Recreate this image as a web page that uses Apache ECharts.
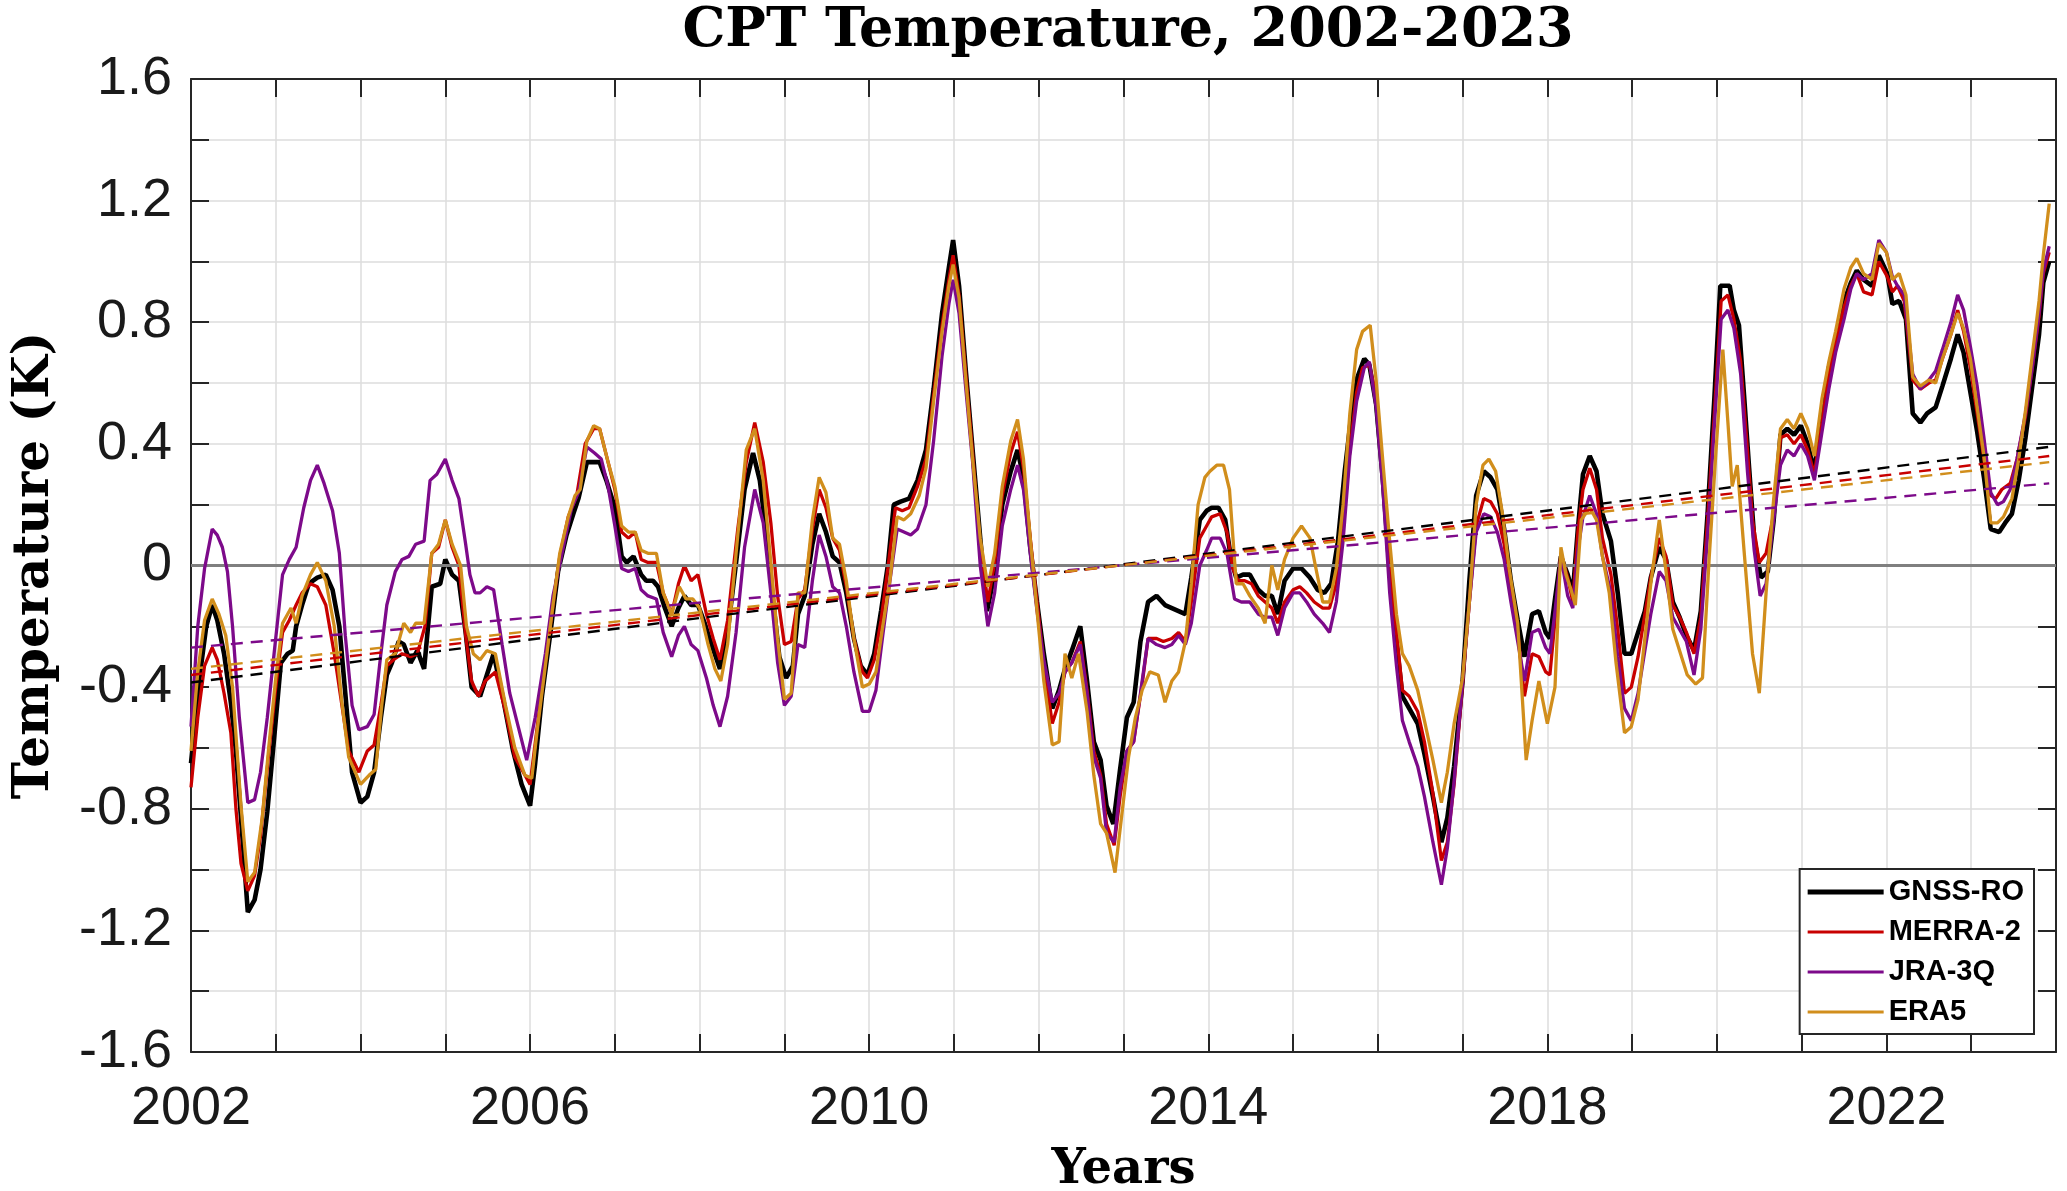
<!DOCTYPE html>
<html>
<head>
<meta charset="utf-8">
<script src="https://cdn.jsdelivr.net/npm/echarts@6/dist/echarts.min.js"></script>
<style>html,body{margin:0;padding:0;background:#fff}#c{width:2067px;height:1191px}</style>
</head>
<body>
<div id="c"></div>
<script>
const titleText = 'CPT Temperature, 2002-2023';
const xName = 'Years';
const yName = 'Temperature (K)';
const seriesNames = ['GNSS-RO', 'MERRA-2', 'JRA-3Q', 'ERA5'];

const gnssRO = [[2002.00,-0.65],[2002.10,-0.37],[2002.18,-0.20],[2002.25,-0.13],[2002.31,-0.18],[2002.39,-0.29],[2002.47,-0.45],[2002.53,-0.61],[2002.59,-0.83],[2002.67,-1.14],[2002.75,-1.10],[2002.82,-1.00],[2002.90,-0.81],[2002.98,-0.57],[2003.06,-0.32],[2003.14,-0.29],[2003.20,-0.28],[2003.24,-0.20],[2003.31,-0.13],[2003.39,-0.06],[2003.49,-0.04],[2003.59,-0.03],[2003.67,-0.08],[2003.75,-0.20],[2003.82,-0.42],[2003.90,-0.68],[2004.00,-0.78],[2004.08,-0.76],[2004.16,-0.68],[2004.24,-0.50],[2004.31,-0.36],[2004.37,-0.32],[2004.45,-0.25],[2004.51,-0.26],[2004.59,-0.32],[2004.67,-0.28],[2004.75,-0.34],[2004.84,-0.07],[2004.94,-0.06],[2005.00,0.02],[2005.08,-0.03],[2005.16,-0.05],[2005.24,-0.22],[2005.31,-0.40],[2005.41,-0.43],[2005.49,-0.36],[2005.57,-0.29],[2005.69,-0.45],[2005.80,-0.61],[2005.90,-0.72],[2006.00,-0.79],[2006.06,-0.65],[2006.14,-0.43],[2006.24,-0.22],[2006.33,-0.02],[2006.43,0.10],[2006.51,0.17],[2006.57,0.22],[2006.67,0.34],[2006.76,0.34],[2006.82,0.34],[2006.90,0.28],[2007.00,0.19],[2007.08,0.03],[2007.14,0.01],[2007.22,0.03],[2007.31,-0.03],[2007.37,-0.05],[2007.45,-0.05],[2007.51,-0.07],[2007.59,-0.14],[2007.67,-0.20],[2007.75,-0.14],[2007.82,-0.10],[2007.90,-0.13],[2007.98,-0.13],[2008.06,-0.19],[2008.14,-0.26],[2008.24,-0.34],[2008.33,-0.22],[2008.43,0.01],[2008.53,0.25],[2008.63,0.37],[2008.71,0.28],[2008.78,0.12],[2008.86,-0.10],[2008.94,-0.30],[2009.02,-0.37],[2009.10,-0.33],[2009.16,-0.16],[2009.24,-0.10],[2009.33,0.07],[2009.41,0.17],[2009.49,0.11],[2009.57,0.03],[2009.65,0.01],[2009.73,-0.09],[2009.82,-0.24],[2009.90,-0.33],[2009.98,-0.36],[2010.06,-0.29],[2010.14,-0.15],[2010.22,0.00],[2010.29,0.20],[2010.37,0.21],[2010.47,0.22],[2010.57,0.28],[2010.67,0.38],[2010.76,0.58],[2010.86,0.83],[2010.94,0.98],[2010.99,1.07],[2011.06,0.92],[2011.14,0.64],[2011.22,0.38],[2011.31,0.09],[2011.39,-0.15],[2011.47,-0.04],[2011.57,0.20],[2011.67,0.31],[2011.75,0.38],[2011.82,0.29],[2011.90,0.06],[2011.98,-0.12],[2012.06,-0.29],[2012.16,-0.47],[2012.24,-0.41],[2012.31,-0.34],[2012.39,-0.28],[2012.49,-0.20],[2012.57,-0.38],[2012.65,-0.58],[2012.73,-0.64],[2012.80,-0.79],[2012.88,-0.85],[2012.96,-0.67],[2013.04,-0.50],[2013.12,-0.45],[2013.20,-0.25],[2013.29,-0.12],[2013.39,-0.10],[2013.49,-0.13],[2013.57,-0.14],[2013.65,-0.15],[2013.73,-0.16],[2013.80,-0.04],[2013.90,0.15],[2013.98,0.18],[2014.04,0.19],[2014.12,0.19],[2014.20,0.15],[2014.27,0.02],[2014.33,-0.04],[2014.41,-0.03],[2014.49,-0.03],[2014.59,-0.08],[2014.67,-0.10],[2014.75,-0.10],[2014.82,-0.16],[2014.90,-0.05],[2015.00,-0.01],[2015.10,-0.01],[2015.20,-0.04],[2015.29,-0.08],[2015.37,-0.09],[2015.45,-0.06],[2015.53,0.08],[2015.61,0.31],[2015.69,0.50],[2015.76,0.62],[2015.84,0.68],[2015.90,0.66],[2015.98,0.53],[2016.06,0.28],[2016.14,-0.02],[2016.22,-0.25],[2016.29,-0.43],[2016.37,-0.47],[2016.47,-0.52],[2016.55,-0.62],[2016.65,-0.76],[2016.75,-0.91],[2016.82,-0.83],[2016.90,-0.66],[2017.00,-0.38],[2017.08,-0.05],[2017.16,0.23],[2017.25,0.31],[2017.33,0.29],[2017.41,0.25],[2017.49,0.12],[2017.57,-0.05],[2017.65,-0.18],[2017.73,-0.30],[2017.82,-0.16],[2017.90,-0.15],[2017.98,-0.22],[2018.03,-0.24],[2018.09,-0.11],[2018.16,0.03],[2018.24,-0.03],[2018.30,-0.09],[2018.36,0.12],[2018.42,0.30],[2018.50,0.36],[2018.58,0.31],[2018.65,0.17],[2018.75,0.08],[2018.83,-0.09],[2018.91,-0.29],[2018.99,-0.29],[2019.07,-0.22],[2019.15,-0.15],[2019.22,-0.04],[2019.32,0.06],[2019.40,0.02],[2019.48,-0.12],[2019.56,-0.17],[2019.64,-0.23],[2019.73,-0.28],[2019.81,-0.15],[2019.89,0.17],[2019.97,0.55],[2020.04,0.92],[2020.15,0.92],[2020.20,0.84],[2020.26,0.79],[2020.32,0.56],[2020.38,0.32],[2020.44,0.09],[2020.52,-0.04],[2020.60,-0.02],[2020.67,0.15],[2020.75,0.43],[2020.83,0.45],[2020.91,0.43],[2020.99,0.46],[2021.07,0.40],[2021.15,0.31],[2021.24,0.50],[2021.32,0.65],[2021.40,0.74],[2021.50,0.87],[2021.58,0.93],[2021.65,0.97],[2021.73,0.94],[2021.83,0.92],[2021.91,1.02],[2022.01,0.96],[2022.07,0.86],[2022.15,0.87],[2022.23,0.81],[2022.31,0.50],[2022.40,0.47],[2022.48,0.50],[2022.58,0.52],[2022.66,0.59],[2022.76,0.68],[2022.84,0.76],[2022.91,0.70],[2022.99,0.57],[2023.07,0.44],[2023.15,0.29],[2023.23,0.12],[2023.33,0.11],[2023.40,0.14],[2023.48,0.17],[2023.56,0.28],[2023.64,0.42],[2023.72,0.59],[2023.80,0.76],[2023.85,0.93],[2023.92,1.00]];

const merra2 = [[2002.00,-0.73],[2002.08,-0.50],[2002.16,-0.33],[2002.25,-0.27],[2002.31,-0.31],[2002.39,-0.42],[2002.47,-0.55],[2002.53,-0.80],[2002.59,-0.98],[2002.67,-1.07],[2002.75,-1.02],[2002.82,-0.89],[2002.92,-0.61],[2003.00,-0.40],[2003.08,-0.22],[2003.16,-0.18],[2003.24,-0.13],[2003.31,-0.09],[2003.41,-0.06],[2003.49,-0.07],[2003.59,-0.13],[2003.69,-0.29],[2003.78,-0.46],[2003.86,-0.61],[2003.98,-0.68],[2004.08,-0.61],[2004.16,-0.59],[2004.24,-0.46],[2004.31,-0.33],[2004.39,-0.31],[2004.49,-0.29],[2004.59,-0.30],[2004.67,-0.29],[2004.76,-0.20],[2004.84,0.04],[2004.92,0.06],[2005.00,0.15],[2005.08,0.06],[2005.16,0.00],[2005.24,-0.23],[2005.31,-0.38],[2005.39,-0.43],[2005.47,-0.38],[2005.59,-0.35],[2005.71,-0.48],[2005.82,-0.63],[2005.92,-0.68],[2006.00,-0.72],[2006.08,-0.54],[2006.18,-0.32],[2006.27,-0.13],[2006.35,0.03],[2006.45,0.16],[2006.55,0.23],[2006.65,0.40],[2006.75,0.45],[2006.82,0.45],[2006.92,0.34],[2007.00,0.25],[2007.08,0.11],[2007.16,0.09],[2007.24,0.11],[2007.31,0.02],[2007.39,0.01],[2007.49,0.01],[2007.57,-0.09],[2007.67,-0.16],[2007.75,-0.06],[2007.82,0.00],[2007.90,-0.05],[2007.98,-0.03],[2008.08,-0.16],[2008.16,-0.24],[2008.24,-0.31],[2008.33,-0.18],[2008.45,0.12],[2008.55,0.34],[2008.65,0.47],[2008.75,0.34],[2008.84,0.14],[2008.92,-0.10],[2009.00,-0.26],[2009.08,-0.25],[2009.16,-0.11],[2009.24,-0.08],[2009.33,0.12],[2009.41,0.25],[2009.49,0.19],[2009.57,0.09],[2009.65,0.05],[2009.73,-0.07],[2009.82,-0.24],[2009.92,-0.35],[2009.98,-0.37],[2010.06,-0.31],[2010.14,-0.18],[2010.22,-0.01],[2010.31,0.19],[2010.39,0.18],[2010.47,0.19],[2010.57,0.26],[2010.67,0.35],[2010.76,0.56],[2010.86,0.79],[2010.94,0.94],[2010.99,1.02],[2011.06,0.89],[2011.14,0.63],[2011.22,0.37],[2011.31,0.06],[2011.40,-0.12],[2011.48,0.01],[2011.57,0.23],[2011.67,0.37],[2011.75,0.44],[2011.82,0.32],[2011.90,0.09],[2011.98,-0.12],[2012.06,-0.32],[2012.16,-0.52],[2012.24,-0.45],[2012.31,-0.35],[2012.39,-0.32],[2012.49,-0.25],[2012.57,-0.41],[2012.65,-0.61],[2012.73,-0.69],[2012.80,-0.85],[2012.89,-0.92],[2012.96,-0.76],[2013.04,-0.61],[2013.12,-0.58],[2013.22,-0.39],[2013.29,-0.24],[2013.39,-0.24],[2013.47,-0.25],[2013.57,-0.24],[2013.65,-0.22],[2013.73,-0.25],[2013.80,-0.12],[2013.90,0.09],[2013.98,0.13],[2014.04,0.16],[2014.14,0.17],[2014.22,0.11],[2014.29,-0.01],[2014.35,-0.05],[2014.43,-0.05],[2014.51,-0.06],[2014.59,-0.10],[2014.67,-0.12],[2014.75,-0.14],[2014.82,-0.19],[2014.90,-0.12],[2015.00,-0.08],[2015.08,-0.07],[2015.16,-0.09],[2015.25,-0.12],[2015.35,-0.14],[2015.43,-0.14],[2015.51,-0.06],[2015.59,0.12],[2015.67,0.38],[2015.75,0.57],[2015.82,0.65],[2015.90,0.66],[2015.98,0.56],[2016.06,0.28],[2016.14,-0.01],[2016.22,-0.22],[2016.29,-0.41],[2016.37,-0.43],[2016.47,-0.48],[2016.55,-0.58],[2016.65,-0.75],[2016.75,-0.97],[2016.82,-0.91],[2016.90,-0.72],[2017.00,-0.39],[2017.08,-0.12],[2017.16,0.13],[2017.25,0.22],[2017.33,0.21],[2017.41,0.17],[2017.49,0.07],[2017.57,-0.09],[2017.65,-0.22],[2017.73,-0.43],[2017.82,-0.29],[2017.90,-0.30],[2017.98,-0.35],[2018.03,-0.36],[2018.09,-0.18],[2018.16,0.04],[2018.24,-0.04],[2018.30,-0.12],[2018.36,0.11],[2018.42,0.25],[2018.50,0.32],[2018.58,0.25],[2018.65,0.09],[2018.75,-0.03],[2018.83,-0.21],[2018.91,-0.42],[2018.99,-0.40],[2019.07,-0.30],[2019.15,-0.16],[2019.22,-0.04],[2019.32,0.09],[2019.40,0.03],[2019.48,-0.13],[2019.56,-0.17],[2019.64,-0.22],[2019.73,-0.29],[2019.81,-0.17],[2019.89,0.15],[2019.97,0.50],[2020.05,0.87],[2020.13,0.89],[2020.20,0.81],[2020.28,0.67],[2020.36,0.38],[2020.42,0.15],[2020.50,0.01],[2020.58,0.04],[2020.67,0.17],[2020.75,0.42],[2020.83,0.43],[2020.91,0.40],[2020.99,0.43],[2021.07,0.38],[2021.15,0.30],[2021.24,0.47],[2021.32,0.63],[2021.40,0.73],[2021.50,0.85],[2021.58,0.92],[2021.65,0.96],[2021.73,0.90],[2021.83,0.89],[2021.91,1.00],[2022.01,0.95],[2022.07,0.90],[2022.13,0.92],[2022.21,0.87],[2022.31,0.61],[2022.40,0.58],[2022.50,0.60],[2022.58,0.61],[2022.66,0.68],[2022.76,0.76],[2022.84,0.84],[2022.91,0.77],[2022.99,0.65],[2023.07,0.50],[2023.15,0.35],[2023.23,0.23],[2023.29,0.22],[2023.36,0.25],[2023.46,0.27],[2023.54,0.35],[2023.64,0.49],[2023.72,0.65],[2023.80,0.82],[2023.85,0.96],[2023.92,1.03]];

const jra3q = [[2002.00,-0.53],[2002.08,-0.20],[2002.16,-0.01],[2002.25,0.12],[2002.31,0.10],[2002.37,0.06],[2002.43,-0.02],[2002.49,-0.20],[2002.57,-0.50],[2002.67,-0.78],[2002.75,-0.77],[2002.82,-0.68],[2002.90,-0.50],[2002.98,-0.29],[2003.08,-0.03],[2003.16,0.02],[2003.24,0.06],[2003.33,0.19],[2003.41,0.28],[2003.49,0.33],[2003.57,0.27],[2003.67,0.18],[2003.75,0.04],[2003.82,-0.23],[2003.90,-0.46],[2003.98,-0.54],[2004.08,-0.53],[2004.16,-0.49],[2004.24,-0.29],[2004.31,-0.13],[2004.41,-0.02],[2004.49,0.02],[2004.57,0.03],[2004.65,0.07],[2004.75,0.08],[2004.82,0.28],[2004.90,0.30],[2005.00,0.35],[2005.08,0.28],[2005.16,0.22],[2005.24,0.07],[2005.29,-0.03],[2005.35,-0.09],[2005.41,-0.09],[2005.49,-0.07],[2005.57,-0.08],[2005.67,-0.26],[2005.76,-0.42],[2005.86,-0.53],[2005.96,-0.64],[2006.06,-0.50],[2006.18,-0.29],[2006.27,-0.10],[2006.37,0.03],[2006.49,0.19],[2006.57,0.24],[2006.67,0.39],[2006.76,0.37],[2006.84,0.35],[2006.92,0.26],[2007.00,0.13],[2007.08,-0.01],[2007.16,-0.02],[2007.24,-0.01],[2007.31,-0.08],[2007.39,-0.10],[2007.49,-0.11],[2007.57,-0.22],[2007.67,-0.30],[2007.75,-0.23],[2007.82,-0.20],[2007.90,-0.26],[2007.98,-0.28],[2008.08,-0.37],[2008.16,-0.46],[2008.24,-0.53],[2008.33,-0.43],[2008.43,-0.22],[2008.53,0.06],[2008.65,0.25],[2008.75,0.14],[2008.84,-0.09],[2008.92,-0.32],[2009.00,-0.46],[2009.08,-0.43],[2009.16,-0.26],[2009.24,-0.27],[2009.33,-0.05],[2009.41,0.10],[2009.49,0.03],[2009.57,-0.07],[2009.65,-0.09],[2009.73,-0.20],[2009.82,-0.35],[2009.92,-0.48],[2010.00,-0.48],[2010.08,-0.41],[2010.16,-0.23],[2010.24,-0.06],[2010.33,0.12],[2010.41,0.11],[2010.49,0.10],[2010.57,0.12],[2010.67,0.20],[2010.76,0.41],[2010.86,0.69],[2010.94,0.86],[2010.99,0.94],[2011.06,0.83],[2011.14,0.58],[2011.22,0.34],[2011.31,0.00],[2011.40,-0.20],[2011.48,-0.09],[2011.57,0.13],[2011.67,0.25],[2011.75,0.33],[2011.82,0.25],[2011.90,0.04],[2011.98,-0.15],[2012.06,-0.31],[2012.16,-0.45],[2012.24,-0.42],[2012.31,-0.35],[2012.39,-0.32],[2012.49,-0.26],[2012.57,-0.42],[2012.65,-0.63],[2012.73,-0.70],[2012.80,-0.88],[2012.89,-0.91],[2012.96,-0.73],[2013.04,-0.61],[2013.12,-0.58],[2013.22,-0.38],[2013.29,-0.24],[2013.39,-0.26],[2013.49,-0.27],[2013.57,-0.26],[2013.65,-0.23],[2013.73,-0.26],[2013.80,-0.19],[2013.90,0.00],[2013.98,0.05],[2014.04,0.09],[2014.14,0.09],[2014.22,0.04],[2014.31,-0.11],[2014.39,-0.12],[2014.49,-0.12],[2014.59,-0.16],[2014.67,-0.17],[2014.75,-0.17],[2014.82,-0.23],[2014.90,-0.14],[2015.00,-0.09],[2015.08,-0.09],[2015.16,-0.12],[2015.25,-0.16],[2015.35,-0.19],[2015.43,-0.22],[2015.51,-0.12],[2015.59,0.08],[2015.67,0.36],[2015.75,0.54],[2015.84,0.65],[2015.90,0.67],[2015.98,0.52],[2016.06,0.25],[2016.14,-0.09],[2016.22,-0.33],[2016.29,-0.51],[2016.37,-0.58],[2016.47,-0.66],[2016.55,-0.76],[2016.65,-0.91],[2016.75,-1.05],[2016.82,-0.93],[2016.90,-0.71],[2017.00,-0.38],[2017.08,-0.12],[2017.16,0.11],[2017.25,0.17],[2017.33,0.16],[2017.41,0.11],[2017.49,0.02],[2017.57,-0.12],[2017.65,-0.25],[2017.73,-0.38],[2017.82,-0.22],[2017.90,-0.21],[2017.98,-0.27],[2018.03,-0.29],[2018.09,-0.15],[2018.16,0.03],[2018.24,-0.10],[2018.30,-0.14],[2018.36,0.05],[2018.42,0.16],[2018.50,0.23],[2018.58,0.17],[2018.65,0.03],[2018.75,-0.09],[2018.83,-0.30],[2018.91,-0.47],[2018.99,-0.51],[2019.07,-0.42],[2019.15,-0.28],[2019.22,-0.16],[2019.32,-0.02],[2019.40,-0.05],[2019.48,-0.17],[2019.56,-0.21],[2019.64,-0.25],[2019.73,-0.36],[2019.81,-0.21],[2019.89,0.10],[2019.97,0.46],[2020.05,0.81],[2020.13,0.84],[2020.20,0.78],[2020.28,0.63],[2020.36,0.31],[2020.44,0.05],[2020.51,-0.10],[2020.58,-0.06],[2020.67,0.15],[2020.75,0.33],[2020.83,0.38],[2020.91,0.36],[2020.99,0.40],[2021.07,0.36],[2021.15,0.28],[2021.24,0.44],[2021.32,0.58],[2021.40,0.70],[2021.50,0.81],[2021.58,0.91],[2021.65,0.96],[2021.73,0.94],[2021.83,0.96],[2021.91,1.07],[2022.00,1.03],[2022.07,0.95],[2022.13,0.92],[2022.21,0.89],[2022.31,0.63],[2022.40,0.58],[2022.50,0.61],[2022.58,0.64],[2022.66,0.71],[2022.76,0.80],[2022.84,0.89],[2022.91,0.84],[2022.99,0.72],[2023.07,0.59],[2023.15,0.42],[2023.23,0.24],[2023.31,0.20],[2023.38,0.21],[2023.46,0.25],[2023.54,0.35],[2023.64,0.50],[2023.72,0.65],[2023.80,0.83],[2023.85,0.97],[2023.92,1.05]];

const era5 = [[2002.00,-0.61],[2002.08,-0.35],[2002.16,-0.18],[2002.25,-0.11],[2002.33,-0.16],[2002.41,-0.23],[2002.49,-0.40],[2002.59,-0.79],[2002.67,-1.04],[2002.75,-1.01],[2002.84,-0.83],[2002.92,-0.59],[2003.00,-0.37],[2003.08,-0.19],[2003.18,-0.14],[2003.24,-0.19],[2003.31,-0.10],[2003.41,-0.03],[2003.49,0.01],[2003.59,-0.05],[2003.69,-0.20],[2003.78,-0.45],[2003.86,-0.63],[2004.00,-0.72],[2004.10,-0.69],[2004.18,-0.67],[2004.25,-0.46],[2004.31,-0.31],[2004.41,-0.29],[2004.51,-0.19],[2004.59,-0.22],[2004.65,-0.19],[2004.75,-0.19],[2004.84,0.04],[2004.92,0.07],[2005.00,0.15],[2005.08,0.07],[2005.18,0.00],[2005.25,-0.20],[2005.33,-0.29],[2005.41,-0.31],[2005.49,-0.28],[2005.59,-0.29],[2005.71,-0.46],[2005.82,-0.60],[2005.94,-0.69],[2006.02,-0.70],[2006.08,-0.55],[2006.18,-0.33],[2006.27,-0.13],[2006.35,0.04],[2006.45,0.16],[2006.53,0.23],[2006.59,0.25],[2006.67,0.41],[2006.75,0.46],[2006.82,0.45],[2006.92,0.34],[2007.00,0.26],[2007.08,0.13],[2007.16,0.11],[2007.24,0.11],[2007.31,0.05],[2007.39,0.04],[2007.49,0.04],[2007.57,-0.09],[2007.67,-0.16],[2007.76,-0.07],[2007.84,-0.11],[2007.92,-0.11],[2008.00,-0.14],[2008.10,-0.26],[2008.18,-0.34],[2008.25,-0.38],[2008.33,-0.26],[2008.45,0.10],[2008.55,0.38],[2008.65,0.45],[2008.75,0.28],[2008.84,0.01],[2008.92,-0.24],[2009.00,-0.44],[2009.08,-0.42],[2009.16,-0.09],[2009.24,-0.09],[2009.33,0.15],[2009.41,0.29],[2009.49,0.24],[2009.57,0.09],[2009.65,0.07],[2009.73,-0.05],[2009.82,-0.24],[2009.92,-0.40],[2010.00,-0.39],[2010.08,-0.35],[2010.16,-0.20],[2010.24,-0.06],[2010.33,0.16],[2010.41,0.15],[2010.49,0.17],[2010.59,0.23],[2010.67,0.32],[2010.76,0.54],[2010.86,0.77],[2010.94,0.92],[2010.99,0.99],[2011.06,0.88],[2011.14,0.61],[2011.22,0.35],[2011.31,0.09],[2011.40,-0.07],[2011.48,0.04],[2011.57,0.26],[2011.67,0.41],[2011.75,0.48],[2011.82,0.35],[2011.90,0.09],[2011.98,-0.15],[2012.06,-0.38],[2012.16,-0.59],[2012.24,-0.58],[2012.31,-0.29],[2012.39,-0.37],[2012.47,-0.29],[2012.57,-0.48],[2012.65,-0.69],[2012.73,-0.85],[2012.80,-0.88],[2012.90,-1.01],[2012.98,-0.82],[2013.06,-0.63],[2013.14,-0.50],[2013.22,-0.41],[2013.31,-0.35],[2013.41,-0.36],[2013.49,-0.45],[2013.57,-0.38],[2013.65,-0.35],[2013.73,-0.25],[2013.80,-0.06],[2013.88,0.20],[2013.96,0.29],[2014.02,0.31],[2014.10,0.33],[2014.18,0.33],[2014.25,0.25],[2014.33,-0.06],[2014.41,-0.06],[2014.49,-0.10],[2014.59,-0.14],[2014.67,-0.19],[2014.75,0.00],[2014.82,-0.08],[2014.90,0.02],[2015.00,0.09],[2015.10,0.13],[2015.20,0.09],[2015.27,-0.01],[2015.35,-0.12],[2015.43,-0.12],[2015.51,-0.01],[2015.59,0.20],[2015.67,0.50],[2015.75,0.71],[2015.82,0.77],[2015.91,0.79],[2015.98,0.61],[2016.06,0.34],[2016.14,0.08],[2016.22,-0.16],[2016.29,-0.29],[2016.37,-0.33],[2016.47,-0.41],[2016.55,-0.51],[2016.65,-0.64],[2016.75,-0.78],[2016.82,-0.68],[2016.90,-0.52],[2017.00,-0.37],[2017.08,-0.12],[2017.16,0.20],[2017.24,0.33],[2017.31,0.35],[2017.39,0.31],[2017.47,0.17],[2017.55,-0.01],[2017.65,-0.19],[2017.75,-0.64],[2017.82,-0.51],[2017.90,-0.38],[2018.00,-0.52],[2018.09,-0.40],[2018.16,0.06],[2018.22,-0.03],[2018.28,-0.08],[2018.33,-0.13],[2018.40,0.15],[2018.50,0.19],[2018.58,0.15],[2018.65,0.03],[2018.73,-0.09],[2018.81,-0.32],[2018.91,-0.55],[2018.99,-0.53],[2019.07,-0.44],[2019.15,-0.24],[2019.22,-0.06],[2019.32,0.15],[2019.40,-0.02],[2019.48,-0.21],[2019.56,-0.28],[2019.65,-0.36],[2019.75,-0.39],[2019.83,-0.37],[2019.91,0.03],[2019.99,0.38],[2020.07,0.71],[2020.13,0.47],[2020.18,0.26],[2020.24,0.33],[2020.32,0.05],[2020.42,-0.29],[2020.50,-0.42],[2020.58,-0.09],[2020.67,0.22],[2020.75,0.45],[2020.83,0.48],[2020.91,0.45],[2020.99,0.50],[2021.07,0.45],[2021.15,0.36],[2021.24,0.55],[2021.32,0.67],[2021.40,0.77],[2021.50,0.91],[2021.58,0.98],[2021.65,1.01],[2021.73,0.96],[2021.83,0.94],[2021.91,1.06],[2022.00,1.03],[2022.07,0.94],[2022.15,0.96],[2022.23,0.89],[2022.31,0.62],[2022.40,0.59],[2022.50,0.61],[2022.58,0.60],[2022.66,0.68],[2022.76,0.76],[2022.84,0.83],[2022.91,0.78],[2022.99,0.68],[2023.07,0.52],[2023.15,0.36],[2023.23,0.14],[2023.31,0.14],[2023.38,0.16],[2023.48,0.22],[2023.56,0.35],[2023.64,0.51],[2023.72,0.69],[2023.80,0.87],[2023.85,1.02],[2023.92,1.19]];

// Linear trend lines (endpoints)
const trendGNSS = [[2002.0,-0.385],[2023.92,0.39]];
const trendMERRA = [[2002.0,-0.36],[2023.92,0.36]];
const trendJRA = [[2002.0,-0.27],[2023.92,0.27]];
const trendERA = [[2002.0,-0.34],[2023.92,0.34]];

const colors = ['#000000', '#c80000', '#7d0a8a', '#d18e1c'];
const widths = [4.6, 3.3, 3.3, 3.3];
const legendIcons = ['path://M0,0H76V5H0Z', 'path://M0,0H76V3.2H0Z', 'path://M0,0H76V3.2H0Z', 'path://M0,0H76V3.2H0Z'];

const sans = "'Liberation Sans', Arial, Helvetica, sans-serif";
const serif = "'DejaVu Serif', serif";
const axisColor = '#262626';
const gridColor = '#dcdcdc';

const chart = echarts.init(document.getElementById('c'));

const dataSets = [gnssRO, merra2, jra3q, era5];
const trends = [trendGNSS, trendMERRA, trendJRA, trendERA];

const series = [];
series.push({
  name: 'zero', type: 'line', data: [], z: 1, silent: true,
  markLine: { silent: true, symbol: 'none', label: { show: false },
    lineStyle: { color: '#7f7f7f', width: 3, type: 'solid' }, data: [{ yAxis: 0 }] }
});
dataSets.forEach((d, i) => {
  series.push({
    name: seriesNames[i], type: 'line', data: d, symbol: 'none', showSymbol: false,
    lineStyle: { color: colors[i], width: widths[i] }, itemStyle: { color: colors[i] },
    z: 3 + i, animation: false
  });
});
trends.forEach((d, i) => {
  series.push({
    name: seriesNames[i] + ' trend', type: 'line', data: d, symbol: 'none', showSymbol: false,
    lineStyle: { color: colors[i], width: 2.4, type: [12, 8] }, z: 8, animation: false
  });
});

const xLabelFmt = v => { const r = Math.round(v); return ((r - 2002) % 4 === 0) ? String(r) : ''; };
const yLabelFmt = v => { const r = Math.round(v * 10); if (r % 4 !== 0) return ''; const s = (r / 10).toString(); return s === '-0' ? '0' : s; };

const commonX = {
  type: 'value', min: 2002, max: 2024, interval: 1,
  axisLine: { show: true, onZero: false, lineStyle: { color: axisColor, width: 2 } },
  axisTick: { show: true, inside: true, length: 18, lineStyle: { color: axisColor, width: 2 } }
};
const commonY = {
  type: 'value', min: -1.6, max: 1.6, interval: 0.2,
  axisLine: { show: true, onZero: false, lineStyle: { color: axisColor, width: 2 } },
  axisTick: { show: true, inside: true, length: 18, lineStyle: { color: axisColor, width: 2 } }
};

chart.setOption({
  backgroundColor: '#ffffff',
  animation: false,
  title: {
    text: titleText, left: 1123, top: 0, textAlign: 'center',
    textStyle: { fontFamily: serif, fontWeight: 'bold', fontSize: 54, color: '#000' }
  },
  grid: { left: 191, right: 11, top: 79, bottom: 139, containLabel: false, outerBoundsMode: 'none' },
  legend: {
    data: seriesNames.map((n, i) => ({ name: n, icon: legendIcons[i] })),
    orient: 'vertical', right: 33, top: 869, symbolKeepAspect: true,
    padding: [8, 10, 7, 8], itemWidth: 76, itemHeight: 14, itemGap: 10,
    backgroundColor: '#ffffff', borderColor: axisColor, borderWidth: 2, borderRadius: 0,
    textStyle: { fontFamily: sans, fontWeight: 'bold', fontSize: 29, color: '#000', lineHeight: 30 }
  },
  xAxis: [
    Object.assign({}, commonX, {
      position: 'bottom', name: xName, nameLocation: 'middle', nameGap: 95,
      nameTextStyle: { fontFamily: serif, fontWeight: 'bold', fontSize: 48, color: '#000' },
      axisLabel: { show: true, formatter: xLabelFmt, margin: 30, fontFamily: sans, fontSize: 54, color: '#1a1a1a' },
      splitLine: { show: true, lineStyle: { color: gridColor, width: 1.5 } }
    }),
    Object.assign({}, commonX, { position: 'top', axisLabel: { show: false }, splitLine: { show: false } })
  ],
  yAxis: [
    Object.assign({}, commonY, {
      position: 'left', name: yName, nameLocation: 'middle', nameGap: 131, nameRotate: 90,
      nameTextStyle: { fontFamily: serif, fontWeight: 'bold', fontSize: 50, color: '#000' },
      axisLabel: { show: true, formatter: yLabelFmt, margin: 19, fontFamily: sans, fontSize: 54, color: '#1a1a1a' },
      splitLine: { show: true, lineStyle: { color: gridColor, width: 1.5 } }
    }),
    Object.assign({}, commonY, { position: 'right', axisLabel: { show: false }, splitLine: { show: false } })
  ],
  series: series
});
</script>
</body>
</html>
